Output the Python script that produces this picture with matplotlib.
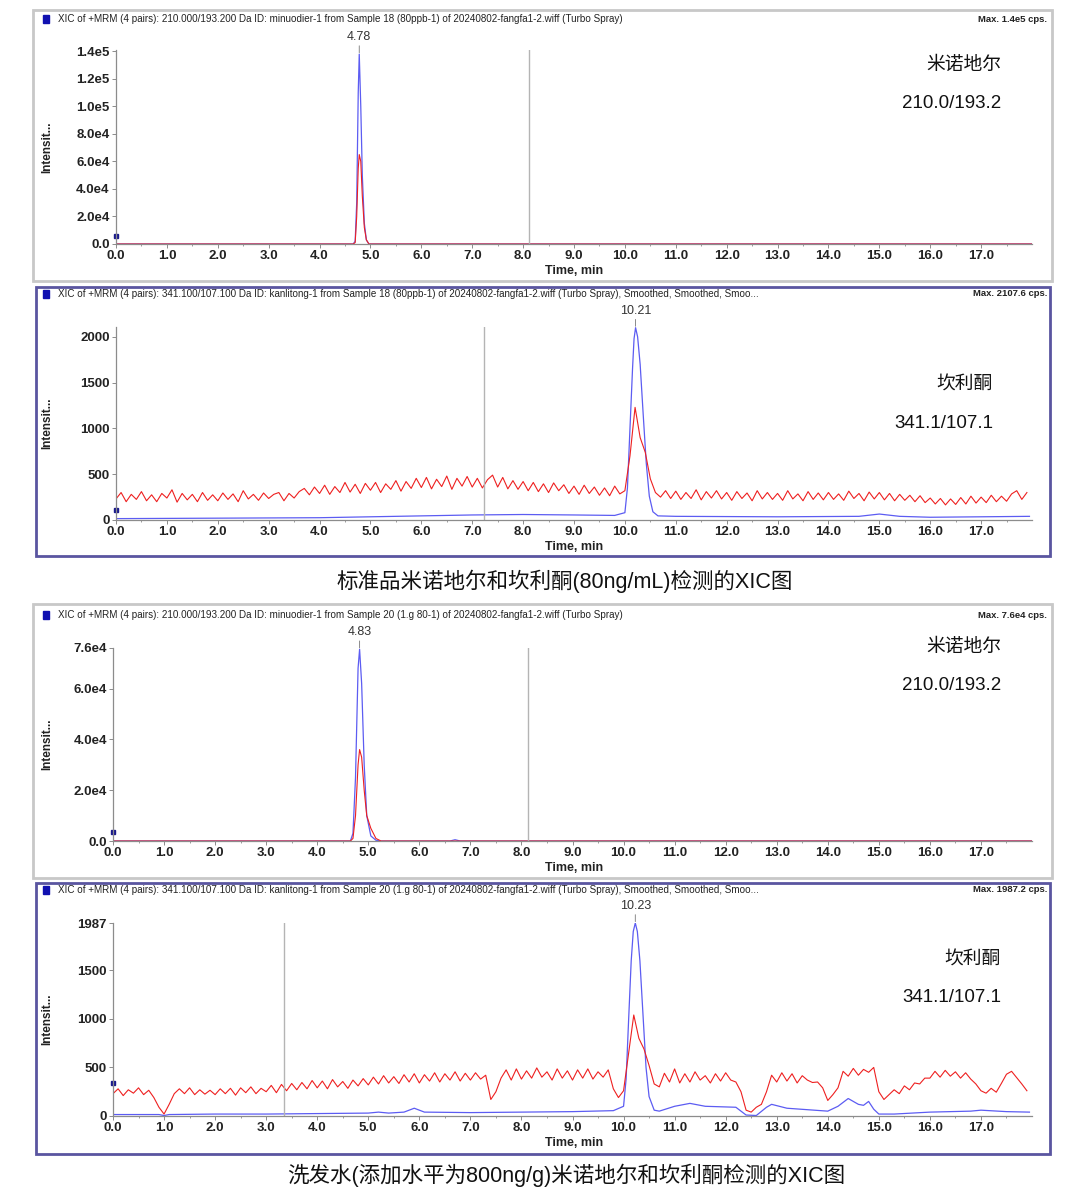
import numpy as np
import matplotlib
matplotlib.use("Agg")
import matplotlib.pyplot as plt
from matplotlib.patches import Rectangle

plt.rcParams['font.family'] = ['Liberation Sans', 'Noto Sans CJK SC', 'DejaVu Sans']

# ---- dati ----
# pannello 1: minoxidil, standard
t_p1 = [0.0, 4.66, 4.70, 4.73, 4.76, 4.78, 4.81, 4.84, 4.88, 4.92, 4.97, 18.0]
blue_p1 = [0, 0, 2000, 30000, 110000, 138000, 100000, 50000, 15000, 3000, 0, 0]
red_p1 = [0, 0, 1000, 20000, 55000, 65000, 60000, 35000, 12000, 3000, 0, 0]

# pannello 2: canrenone, standard
t_b2 = [0, 2, 4, 6, 7, 8, 9, 9.8, 10.0, 10.05, 10.1, 10.15, 10.18, 10.21, 10.25,
        10.3, 10.36, 10.42, 10.48, 10.55, 10.65, 11, 13, 14.6, 15.0, 15.4, 16, 17, 17.95]
blue_p2 = [15, 20, 25, 45, 55, 60, 55, 50, 80, 350, 1000, 1650, 1980, 2100, 2000,
           1700, 1150, 620, 260, 90, 45, 40, 35, 40, 65, 40, 30, 35, 40]
red_p2 = [
    230, 300, 200, 280, 225, 310, 210, 275, 200, 290,
    240, 330, 195, 290, 220, 280, 200, 300, 215, 275,
    210, 295, 225, 285, 200, 320, 230, 280, 215, 295,
    235, 280, 300, 210, 290, 240, 310, 345, 275, 360,
    290, 380, 280, 365, 300, 410, 305, 390, 290, 400,
    325, 410, 300, 395, 335, 430, 315, 420, 345, 455,
    355, 465, 340, 445, 365, 480, 335, 455, 370, 475,
    360, 455, 350, 440, 490, 360, 465, 340, 430, 335,
    420, 320, 410, 310, 395, 300, 405, 320, 385, 290,
    370, 280, 380, 290, 360, 270, 350, 265, 370, 285,
    320, 700, 1230, 900, 740, 450, 300, 250, 320, 235,
    315, 225, 300, 235, 330, 220, 310, 240, 320, 230,
    300, 215, 310, 235, 295, 210, 320, 230, 300, 225,
    290, 215, 320, 230, 285, 210, 310, 225, 295, 220,
    300, 225, 285, 215, 315, 235, 290, 210, 305, 230,
    300, 220, 290, 210, 280, 215, 270, 200, 265, 190,
    240, 175, 235, 165, 230, 170, 245, 175, 260, 185,
    250, 190, 270, 200, 260, 205, 285, 320, 225, 300,
]

# pannello 3: minoxidil, shampoo
t_p3 = [0.0, 4.65, 4.70, 4.75, 4.80, 4.83, 4.87, 4.92, 4.97, 5.05, 5.15, 5.25,
        6.6, 6.7, 6.8, 18.0]
blue_p3 = [0, 0, 3000, 25000, 68000, 75500, 62000, 30000, 10000, 2000, 300, 0,
           0, 500, 0, 0]
red_p3 = [0, 0, 1000, 10000, 30000, 36000, 33000, 20000, 10000, 5000, 1000, 0,
          0, 0, 0, 0]

# pannello 4: canrenone, shampoo
t_b4 = [0, 0.9, 1.0, 1.1, 2, 3, 4, 5.0, 5.2, 5.4, 5.7, 5.9, 6.1, 7, 8, 9, 9.8,
        10.0, 10.05, 10.1, 10.15, 10.19, 10.23, 10.27, 10.32, 10.38, 10.44, 10.5,
        10.6, 10.7, 11.0, 11.3, 11.6, 12.2, 12.4, 12.6, 12.8, 12.9, 13.2, 14.0,
        14.2, 14.4, 14.6, 14.7, 14.8, 14.9, 15.0, 15.3, 16, 16.8, 17.0, 17.5, 17.95]
blue_p4 = [15, 15, 5, 15, 20, 20, 25, 30, 40, 30, 40, 80, 40, 35, 40, 45, 55,
           100, 380, 1000, 1600, 1900, 1987, 1900, 1600, 1050, 500, 200,
           60, 50, 100, 130, 100, 90, 10, 5, 90, 120, 80, 50,
           100, 180, 120, 110, 150, 70, 20, 20, 40, 50, 60, 45, 40]
red_p4 = [
    230, 280, 210, 270, 235, 290, 220, 265, 190, 90,
    20, 120, 230, 280, 230, 290, 220, 270, 225, 265,
    220, 280, 230, 285, 215, 290, 240, 300, 230, 285,
    250, 315, 240, 325, 260, 335, 270, 345, 280, 365,
    290, 360, 280, 375, 300, 355, 285, 370, 310, 385,
    320, 400, 330, 415, 340, 405, 335, 425, 350, 435,
    340, 425, 360, 445, 350, 435, 370, 455, 360, 440,
    370, 445, 380, 420, 170, 250, 390, 475, 370, 485,
    380, 465, 390, 495, 400, 455, 370, 485, 390, 465,
    370, 475, 390, 485, 380, 455, 400, 475, 280, 190,
    260, 650, 1040, 800, 690, 520, 330, 300, 440, 350,
    485, 340, 435, 350, 455, 370, 415, 340, 435, 360,
    445, 370, 350, 250, 60, 40, 90, 120, 250, 420,
    350, 445, 360, 435, 340, 415, 370, 345, 350, 290,
    160, 220, 290, 460, 410, 490, 420, 480, 450, 500,
    250, 170, 220, 270, 230, 310, 270, 340, 330, 390,
    390, 460, 400, 470, 410, 455, 390, 445, 380, 330,
    260, 235, 285, 245, 335, 430, 460, 395, 330, 260,
]

x_ticks = [float(i) for i in range(18)]
x_labels = [f"{i:.1f}" for i in range(18)]

headers = [
    "XIC of +MRM (4 pairs): 210.000/193.200 Da ID: minuodier-1 from Sample 18 (80ppb-1) of 20240802-fangfa1-2.wiff (Turbo Spray)",
    "XIC of +MRM (4 pairs): 341.100/107.100 Da ID: kanlitong-1 from Sample 18 (80ppb-1) of 20240802-fangfa1-2.wiff (Turbo Spray), Smoothed, Smoothed, Smoo...",
    "XIC of +MRM (4 pairs): 210.000/193.200 Da ID: minuodier-1 from Sample 20 (1.g 80-1) of 20240802-fangfa1-2.wiff (Turbo Spray)",
    "XIC of +MRM (4 pairs): 341.100/107.100 Da ID: kanlitong-1 from Sample 20 (1.g 80-1) of 20240802-fangfa1-2.wiff (Turbo Spray), Smoothed, Smoothed, Smoo...",
]
max_labels = ["Max. 1.4e5 cps.", "Max. 2107.6 cps.", "Max. 7.6e4 cps.", "Max. 1987.2 cps."]
compounds = ["米诺地尔", "坎利酮", "米诺地尔", "坎利酮"]
transitions = ["210.0/193.2", "341.1/107.1", "210.0/193.2", "341.1/107.1"]
peak_rt = ["4.78", "10.21", "4.83", "10.23"]
captions = ["标准品米诺地尔和坎利酮(80ng/mL)检测的XIC图",
            "洗发水(添加水平为800ng/g)米诺地尔和坎利酮检测的XIC图"]

W, H = 1080, 1200
fig = plt.figure(figsize=(W / 100, H / 100), dpi=100)


def fx(px):
    return px / W


def fy(py):
    return 1 - py / H


# riquadri dei pannelli (pixel): x0, y0, x1, y1, colore bordo
boxes = [(33, 10, 1052, 281, '#c8c8c8'), (36, 287, 1050, 556, '#5a55a0'),
         (33, 604, 1052, 878, '#c8c8c8'), (36, 883, 1050, 1154, '#5a55a0')]
for x0, y0, x1, y1, c in boxes:
    fig.patches.append(Rectangle((fx(x0), fy(y1)), fx(x1 - x0), (y1 - y0) / H,
                                 transform=fig.transFigure, fill=False,
                                 edgecolor=c, lw=2.0))

# posizione degli assi (pixel): left, bottom, width, height
axes_px = [(116, 244, 916, 194), (116, 520, 916, 193),
           (113, 841, 919, 193), (113, 1116, 919, 193)]

ylims = [1.41e5, 2107.6, 7.6e4, 1987.2]
yticks = [[0, 2e4, 4e4, 6e4, 8e4, 1e5, 1.2e5, 1.4e5],
          [0, 500, 1000, 1500, 2000],
          [0, 2e4, 4e4, 6e4, 7.6e4],
          [0, 500, 1000, 1500, 1987]]
yticklabels = [["0.0", "2.0e4", "4.0e4", "6.0e4", "8.0e4", "1.0e5", "1.2e5", "1.4e5"],
               ["0", "500", "1000", "1500", "2000"],
               ["0.0", "2.0e4", "4.0e4", "6.0e4", "7.6e4"],
               ["0", "500", "1000", "1500", "1987"]]
vlines = [8.11, 7.23, 8.13, 3.35]
markers = [5800, 110, 3500, 340]
header_y = [19, 294, 615, 890]
time_y = [271, 547, 868, 1143]
name_y = [65, 385, 647, 960]
name_right = [1001, 993, 1001, 1001]

t_r2 = np.arange(len(red_p2)) * 0.1
t_r4 = np.arange(len(red_p4)) * 0.1
series = [
    (t_p1, blue_p1, t_p1, red_p1),
    (t_b2, blue_p2, t_r2, red_p2),
    (t_p3, blue_p3, t_p3, red_p3),
    (t_b4, blue_p4, t_r4, red_p4),
]
peaks = [(4.78, 138000), (10.21, 2100), (4.83, 75500), (10.23, 1987)]

blue_c = '#5c5cf2'
red_c = '#ee2020'

for i in range(4):
    l, b, w, h = axes_px[i]
    ax = fig.add_axes([fx(l), fy(b), w / W, h / H])
    tb, yb, tr, yr = series[i]
    ax.plot(tb, yb, color=blue_c, lw=0.9)
    ax.plot(tr, yr, color=red_c, lw=0.8)
    ax.axvline(vlines[i], color='#b4b4b4', lw=1.0)
    ax.plot([0], [markers[i]], marker='s', ms=2.5, color='#1a1a8c', clip_on=False)

    ax.set_xlim(0, 18)
    ax.set_ylim(0, ylims[i])
    ax.set_xticks(x_ticks)
    ax.set_xticklabels(x_labels)
    ax.set_xticks(np.arange(0, 18, 0.5), minor=True)
    ax.set_yticks(yticks[i])
    ax.set_yticklabels(yticklabels[i])
    for s in ['top', 'right']:
        ax.spines[s].set_visible(False)
    for s in ['left', 'bottom']:
        ax.spines[s].set_color('#8c8c8c')
        ax.spines[s].set_linewidth(0.9)
    ax.tick_params(axis='both', which='major', length=3, width=0.7, color='#8c8c8c',
                   labelsize=9.5, pad=1.5, labelcolor='#222222')
    ax.tick_params(axis='both', which='minor', length=1.5, width=0.6, color='#8c8c8c')
    for lab in ax.get_xticklabels() + ax.get_yticklabels():
        lab.set_fontweight('bold')
    ax.patch.set_alpha(0)

    # etichetta del tempo di ritenzione
    ax.annotate(peak_rt[i], xy=peaks[i], xytext=(0, 8), textcoords='offset points',
                ha='center', va='bottom', fontsize=9, color='#333333',
                arrowprops=dict(arrowstyle='-', color='#777777', lw=0.6,
                                shrinkA=0, shrinkB=1),
                annotation_clip=False)

    fig.text(fx(574), fy(time_y[i]), "Time, min", ha='center', va='center',
             fontsize=9, fontweight='bold', color='#222222')
    fig.text(fx(47), fy(b - h / 2), "Intensit...", rotation=90, ha='center',
             va='center', fontsize=8.5, fontweight='bold', color='#222222')

    # intestazione del pannello
    fig.patches.append(Rectangle((fx(43), fy(header_y[i] + 4)), fx(6), 8 / H,
                                 transform=fig.transFigure, color='#1010b0'))
    fig.text(fx(58), fy(header_y[i]), headers[i], ha='left', va='center',
             fontsize=7.1, color='#222222')
    fig.text(fx(1047), fy(header_y[i]), max_labels[i], ha='right', va='center',
             fontsize=6.8, fontweight='bold', color='#222222')

    fig.text(fx(name_right[i]), fy(name_y[i]), compounds[i], ha='right', va='center',
             fontsize=13.5, color='#111111')
    fig.text(fx(name_right[i]), fy(name_y[i] + 38), transitions[i], ha='right',
             va='center', fontsize=13.5, color='#111111')

fig.text(fx(565), fy(581), captions[0], ha='center', va='center', fontsize=15.5,
         color='#111111')
fig.text(fx(566), fy(1175), captions[1], ha='center', va='center', fontsize=15.5,
         color='#111111')

fig.savefig("out.png", dpi=100, facecolor='white')
